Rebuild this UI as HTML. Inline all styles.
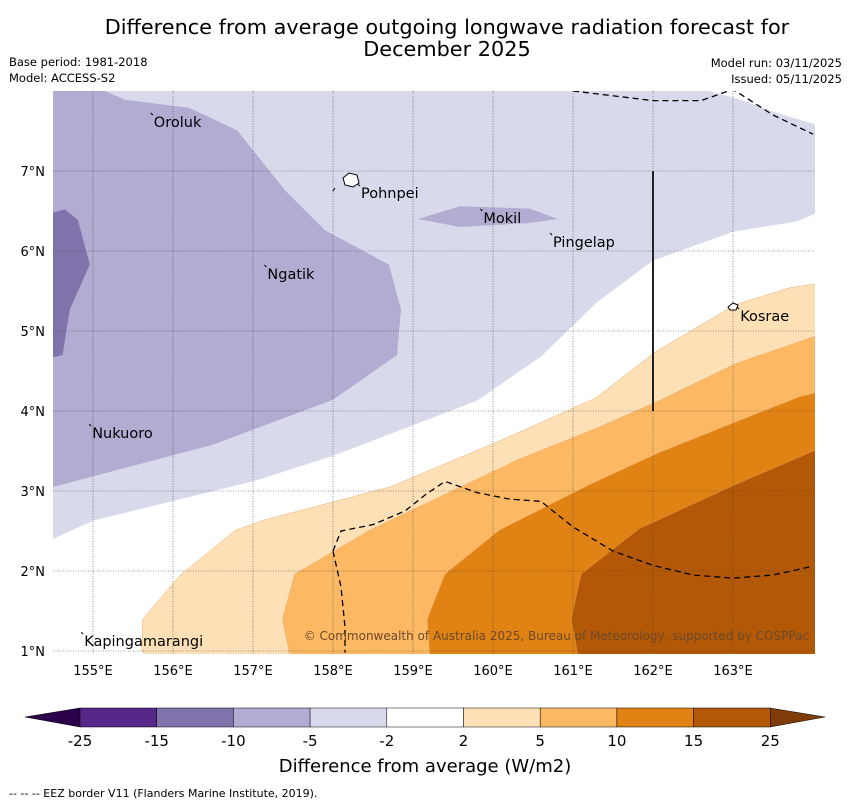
<!DOCTYPE html>
<html><head><meta charset="utf-8"><style>
body{margin:0;background:#fff;width:850px;height:804px;overflow:hidden;font-family:"Liberation Sans",sans-serif}
svg text{font-family:"DejaVu Sans","Liberation Sans",sans-serif}
</style></head><body>
<svg id="c" width="850" height="804">
<text x="447" y="34" font-size="20.8" text-anchor="middle">Difference from average outgoing longwave radiation forecast for</text>
<text x="447" y="56" font-size="20.8" text-anchor="middle">December 2025</text>
<text x="9" y="66" font-size="11.5">Base period: 1981-2018</text>
<text x="9" y="82" font-size="11.5">Model: ACCESS-S2</text>
<text x="842" y="67" font-size="11.5" text-anchor="end">Model run: 03/11/2025</text>
<text x="842" y="83" font-size="11.5" text-anchor="end">Issued: 05/11/2025</text>
<g id="map"></g>
<g id="cb"></g>
<text x="425" y="772" font-size="18" text-anchor="middle">Difference from average (W/m2)</text>
<text x="9" y="797" font-size="11">--  --  -- EEZ border V11 (Flanders Marine Institute, 2019).</text>
</svg>
<script>
const lonTicks=[155,156,157,158,159,160,161,162,163];
const latTicks=[1,2,3,4,5,6,7];
const levelColors=["#d8daeb","#b2abd2","#8073ac","#fee0b6","#fdb863","#e08214","#b35806"];
const polyLight=[[154.5,8],[162.7,8],[163.1,7.89],[163.5,7.74],[164.1,7.56],[164.1,6.5],[163.8,6.37],[163,6.24],[162,5.88],[161.3,5.36],[160.6,4.68],[159.8,4.13],[158.5,3.63],[158,3.44],[157,3.12],[155,2.63],[154.5,2.4]];
const polyMed=[[154.5,8],[155.15,8],[155.4,7.89],[156.2,7.79],[156.8,7.51],[157.4,6.76],[157.9,6.26],[158.7,5.83],[158.85,5.27],[158.8,4.7],[158,4.14],[156.5,3.58],[154.5,3.05]];
const polyMokil=[[159.06,6.4],[159.59,6.56],[160.46,6.53],[160.81,6.4],[160.46,6.35],[159.59,6.3]];
const polyDark=[[154.5,6.48],[154.65,6.52],[154.81,6.39],[154.96,5.83],[154.71,5.27],[154.62,4.7],[154.5,4.67]];
const poly2=[[155.61,1],[155.62,1.4],[156.09,1.95],[156.78,2.51],[157.15,2.64],[158.71,3.05],[160.09,3.63],[161.28,4.16],[162.03,4.74],[163.03,5.33],[163.71,5.54],[164.1,5.6],[164.1,0.95],[155.65,0.95]];
const poly5=[[157.46,0.95],[157.37,1.4],[157.52,1.96],[158.46,2.51],[160.33,3.4],[161.33,3.8],[162.08,4.13],[163.03,4.59],[164.1,4.96],[164.1,0.95]];
const poly10=[[159.21,0.95],[159.18,1.4],[159.4,1.96],[160.08,2.51],[161.21,3.08],[162.08,3.48],[163.03,3.86],[163.84,4.18],[164.1,4.24],[164.1,0.95]];
const poly15=[[161.06,0.95],[160.98,1.4],[161.1,1.96],[161.83,2.53],[163.03,3.08],[164.1,3.54],[164.1,0.95]];
const cbLabels=["-25","-15","-10","-5","-2","2","5","10","15","25"];
const cbColors=["#542788","#8073ac","#b2abd2","#d8daeb","#ffffff","#fee0b6","#fdb863","#e08214","#b35806"];
const places=["Oroluk","Pohnpei","Mokil","Pingelap","Ngatik","Kosrae","Nukuoro","Kapingamarangi"];
const placeLon=[155.76,158.35,159.88,160.75,157.18,163.09,154.99,154.89];
const placeLat=[7.55,6.66,6.35,6.05,5.65,5.125,3.66,1.06];
const eez1=[[158,2.25],[158.1,2.5],[158.5,2.58],[158.9,2.75],[159.15,2.95],[159.4,3.12],[159.8,2.98],[160.2,2.9],[160.6,2.87],[161,2.55],[161.5,2.25],[162,2.07],[162.5,1.95],[163,1.91],[163.5,1.95],[164,2.06]];
const eez1b=[[158,2.25],[158.1,1.8],[158.15,1.3],[158.15,0.98]];
const eez2=[[161,8],[162,7.88],[162.6,7.88],[163,8.02],[163.5,7.7],[164,7.46]];
const NS="http://www.w3.org/2000/svg";
const X=lon=>53+(lon-154.5)*80, Y=lat=>91+(8-lat)*80;
function mk(tag,attrs,parent){const e=document.createElementNS(NS,tag);for(const k in attrs)e.setAttribute(k,attrs[k]);parent.appendChild(e);return e;}
const map=document.getElementById('map');
const pts=p=>p.map(q=>X(q[0]).toFixed(1)+','+Y(q[1]).toFixed(1)).join(' ');
mk('defs',{},map).innerHTML='<clipPath id="clp"><rect x="53" y="91" width="762" height="563"/></clipPath>';
const g=mk('g',{'clip-path':'url(#clp)'},map);
[[polyLight,0,'contour-minus2'],[polyMed,1,'contour-minus5'],[polyMokil,1,'contour-mokil'],[polyDark,2,'contour-minus10'],[poly2,3,'contour-plus2'],[poly5,4,'contour-plus5'],[poly10,5,'contour-plus10'],[poly15,6,'contour-plus15']].forEach(([p,i,n])=>{
 const e=mk('polygon',{points:pts(p),fill:levelColors[i],stroke:i>=3?'#e0a060':'none','stroke-width':0.4},g);
 
 
});
lonTicks.forEach(l=>{
 const e=mk('line',{x1:X(l),x2:X(l),y1:91,y2:654,stroke:'#444','stroke-width':0.6,'stroke-dasharray':'1,1.5'},map);
 
 
 const t=mk('text',{x:X(l),y:675,'font-size':13,'text-anchor':'middle'},map);t.textContent=l+'°E';
 
 
});
latTicks.forEach(l=>{
 const e=mk('line',{x1:53,x2:815,y1:Y(l),y2:Y(l),stroke:'#444','stroke-width':0.6,'stroke-dasharray':'1,1.5'},map);
 
 
 const t=mk('text',{x:45,y:Y(l)+5,'font-size':13,'text-anchor':'end'},map);t.textContent=l+'°N';
 
 
});
[eez1,eez1b,eez2].forEach(p=>{
 const e=mk('polyline',{points:pts(p),fill:'none',stroke:'#000','stroke-width':1.3,'stroke-dasharray':'6,4'},g);
 
 
});
const vl=mk('line',{x1:X(162),x2:X(162),y1:Y(7),y2:Y(4),stroke:'#222','stroke-width':2},map);


places.forEach((n,i)=>{
 const t=mk('text',{x:X(placeLon[i]),y:Y(placeLat[i]),'font-size':14.5},map);t.textContent=n;
 
 
 const d=mk('line',{x1:X(placeLon[i])-3,y1:Y(placeLat[i])-14,x2:X(placeLon[i])-1,y2:Y(placeLat[i])-12,stroke:'#000','stroke-width':1},map);
 
 
});
const ph=mk('path',{d:'M343,178 l6,-5 l8,2 l2,8 l-6,4 l-8,-2 z M333,191 l2,-3',fill:'#fff',stroke:'#000','stroke-width':1},map);


const ko=mk('path',{d:'M728,307 l5,-4 l5,2 l-2,5 l-6,0 z',fill:'#fff',stroke:'#000','stroke-width':1},map);


const cr=mk('text',{x:809,y:640,'font-size':12,'text-anchor':'end',fill:'#6b4a2a'},map);cr.textContent='© Commonwealth of Australia 2025, Bureau of Meteorology, supported by COSPPac';


// colorbar
const cb=document.getElementById('cb');
const cx=i=>80+i*76.7;
const lt=mk('polygon',{points:'25,717 80,708 80,727',fill:'#2d004b',stroke:'#000','stroke-width':0.5},cb);


const rt=mk('polygon',{points:'825,717 770,708 770,727',fill:'#7f3b08',stroke:'#000','stroke-width':0.5},cb);


cbColors.forEach((c,i)=>{
 const r=mk('rect',{x:cx(i),y:708,width:76.7,height:19,fill:c,stroke:'#000','stroke-width':0.5},cb);
 
 
});
cbLabels.forEach((l,i)=>{
 const t=mk('text',{x:cx(i),y:746,'font-size':15,'text-anchor':'middle'},cb);t.textContent=l;
 
 
});
</script>
</body></html>
